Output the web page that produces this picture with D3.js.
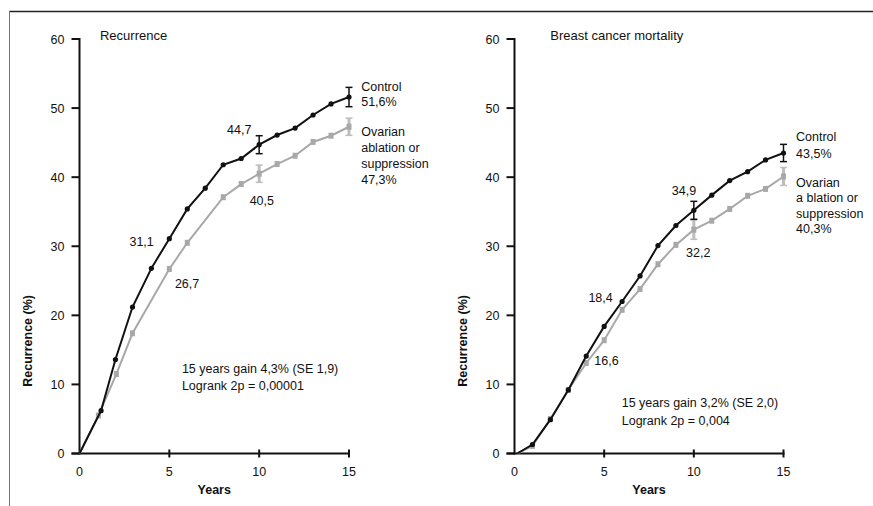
<!DOCTYPE html>
<html>
<head>
<meta charset="utf-8">
<script src="https://cdn.jsdelivr.net/npm/d3@7"></script>
<style>
  body { margin: 0; background: #fff; }
  svg text { font-family: "Liberation Sans", Arial, sans-serif; fill: #111; }
</style>
</head>
<body>
<svg id="chart" width="873" height="506"></svg>
<script>
// ---- data ----
var recControlYears = [0, 1.2, 2, 2.95, 4, 5, 6, 7, 8, 9, 10, 11, 12, 13, 14, 15];
var recControl      = [0, 6.2, 13.6, 21.2, 26.8, 31.1, 35.4, 38.4, 41.8, 42.7, 44.7, 46.1, 47.1, 49.0, 50.6, 51.6];
var recOvarianYears = [0, 1.05, 2.05, 2.95, 5, 6, 8, 9, 10, 11, 12, 13, 14, 15];
var recOvarian      = [0, 5.5, 11.5, 17.4, 26.7, 30.5, 37.1, 39.0, 40.5, 41.9, 43.1, 45.1, 46.0, 47.3];

var mortYears       = [0.15, 1, 2, 3, 4, 5, 6, 7, 8, 9, 10, 11, 12, 13, 14, 15];
var mortControl     = [0, 1.3, 4.9, 9.2, 14.1, 18.4, 22.0, 25.7, 30.1, 33.0, 35.2, 37.4, 39.5, 40.8, 42.5, 43.5];
var mortOvarian     = [0, 1.1, 5.0, 9.2, 13.1, 16.4, 20.8, 23.8, 27.4, 30.2, 32.4, 33.7, 35.4, 37.3, 38.3, 40.1];

var errYears        = [10, 15];
var recControlSE    = [1.3, 1.4];
var recOvarianSE    = [1.25, 1.25];
var mortControlSE   = [1.3, 1.25];
var mortOvarianSE   = [1.4, 1.3];

var xTicks = [0, 5, 10, 15];
var yTicks = [0, 10, 20, 30, 40, 50, 60];

var svg = d3.select("#chart");
var BLACK = "#111", GREY = "#a8a8a8", GREY_ERR = "#bdbdbd";

// frame
svg.append("line").attr("x1", 9).attr("x2", 873).attr("y1", 11.5).attr("y2", 11.5)
    .attr("stroke", "#222").attr("stroke-width", 1.5);
svg.append("line").attr("x1", 9.5).attr("x2", 9.5).attr("y1", 11).attr("y2", 506)
    .attr("stroke", "#777").attr("stroke-width", 1);

var drawPanel = function(p) {
    var x = d3.scaleLinear().domain([0, 15]).range([p.left, p.right]);
    var y = d3.scaleLinear().domain([0, 60]).range([453.5, 39]);
    var g = svg.append("g");

    // y axis
    g.append("line").attr("x1", x(0)).attr("x2", x(0)).attr("y1", y(60) - 1).attr("y2", y(0) + 1)
        .attr("stroke", BLACK).attr("stroke-width", 2);
    g.selectAll(".ytick").data(yTicks).enter().append("line")
        .attr("x1", x(0) - 8).attr("x2", x(0))
        .attr("y1", d => y(d)).attr("y2", d => y(d))
        .attr("stroke", BLACK).attr("stroke-width", 2);
    g.selectAll(".ylab").data(yTicks).enter().append("text")
        .attr("x", x(0) - 15).attr("y", d => y(d) + 4.5)
        .attr("text-anchor", "end").attr("font-size", 12.5)
        .text(d => d);

    // x axis
    g.append("line").attr("x1", x(0) - 8).attr("x2", x(15) + 1).attr("y1", y(0)).attr("y2", y(0))
        .attr("stroke", BLACK).attr("stroke-width", 2);
    g.selectAll(".xtick").data(xTicks.slice(1)).enter().append("line")
        .attr("x1", d => x(d)).attr("x2", d => x(d))
        .attr("y1", y(0) - 4).attr("y2", y(0) + 4)
        .attr("stroke", BLACK).attr("stroke-width", 2);
    g.selectAll(".xlab").data(xTicks).enter().append("text")
        .attr("x", d => x(d)).attr("y", y(0) + 22.7)
        .attr("text-anchor", "middle").attr("font-size", 12.5)
        .text(d => d);

    g.append("text").attr("x", (x(0) + x(15)) / 2).attr("y", 493.8)
        .attr("text-anchor", "middle").attr("font-size", 12.5).attr("font-weight", "bold")
        .text("Years");
    g.append("text")
        .attr("transform", "translate(" + (x(0) - 52.5 + 4.5) + "," + y(16.3) + ") rotate(-90)")
        .attr("text-anchor", "middle").attr("font-size", 12.5).attr("font-weight", "bold")
        .text("Recurrence (%)");

    var line = d3.line().x(d => x(d[0])).y(d => y(d[1]));
    var ctl = d3.zip(p.ctlYears, p.ctl);
    var ova = d3.zip(p.ovaYears, p.ova);

    // ovarian (grey) series
    g.append("path").datum(ova).attr("d", line)
        .attr("fill", "none").attr("stroke", GREY).attr("stroke-width", 2);
    var ovaErr = d3.zip(errYears, errYears.map(yr => p.ova[p.ovaYears.indexOf(yr)]), p.ovaSE);
    ovaErr.forEach(function(e) {
        g.append("line").attr("x1", x(e[0])).attr("x2", x(e[0]))
            .attr("y1", y(e[1] + e[2])).attr("y2", y(e[1] - e[2]))
            .attr("stroke", GREY_ERR).attr("stroke-width", 3);
        [e[1] + e[2], e[1] - e[2]].forEach(function(v) {
            g.append("line").attr("x1", x(e[0]) - 3.5).attr("x2", x(e[0]) + 3.5)
                .attr("y1", y(v)).attr("y2", y(v))
                .attr("stroke", GREY_ERR).attr("stroke-width", 1.5);
        });
    });
    g.selectAll(".ovam").data(ova.slice(1)).enter().append("rect")
        .attr("x", d => x(d[0]) - 2.5).attr("y", d => y(d[1]) - 3)
        .attr("width", 5).attr("height", 6).attr("fill", GREY);

    // control (black) series
    g.append("path").datum(ctl).attr("d", line)
        .attr("fill", "none").attr("stroke", BLACK).attr("stroke-width", 2);
    var ctlErr = d3.zip(errYears, errYears.map(yr => p.ctl[p.ctlYears.indexOf(yr)]), p.ctlSE);
    ctlErr.forEach(function(e) {
        g.append("line").attr("x1", x(e[0])).attr("x2", x(e[0]))
            .attr("y1", y(e[1] + e[2])).attr("y2", y(e[1] - e[2]))
            .attr("stroke", BLACK).attr("stroke-width", 1.5);
        [e[1] + e[2], e[1] - e[2]].forEach(function(v) {
            g.append("line").attr("x1", x(e[0]) - 3.5).attr("x2", x(e[0]) + 3.5)
                .attr("y1", y(v)).attr("y2", y(v))
                .attr("stroke", BLACK).attr("stroke-width", 1.5);
        });
    });
    g.selectAll(".ctlm").data(ctl.slice(1)).enter().append("circle")
        .attr("cx", d => x(d[0])).attr("cy", d => y(d[1])).attr("r", 2.6).attr("fill", BLACK);

    // annotations
    p.notes.forEach(function(n) {
        var t = g.append("text").attr("x", x(n.yr)).attr("y", y(n.val))
            .attr("font-size", n.size || 12.5);
        n.lines.forEach(function(s, i) {
            t.append("tspan").attr("x", x(n.yr)).attr("dy", i === 0 ? 0 : n.lh).text(s);
        });
    });
};

drawPanel({
    left: 79.5, right: 349,
    ctlYears: recControlYears, ctl: recControl, ctlSE: recControlSE,
    ovaYears: recOvarianYears, ova: recOvarian, ovaSE: recOvarianSE,
    notes: [
        { yr: 1.14, val: 59.9, lines: ["Recurrence"], size: 13 },
        { yr: 2.78, val: 30.0, lines: ["31,1"] },
        { yr: 5.31, val: 24.0, lines: ["26,7"] },
        { yr: 8.21, val: 46.2, lines: ["44,7"] },
        { yr: 9.47, val: 36.0, lines: ["40,5"] },
        { yr: 15.68, val: 52.5, lines: ["Control", "51,6%"], lh: 15 },
        { yr: 15.68, val: 46.0, lines: ["Ovarian", "ablation or", "suppression", "47,3%"], lh: 16 },
        { yr: 5.7, val: 11.6, lines: ["15 years gain 4,3% (SE 1,9)", "Logrank 2p = 0,00001"], lh: 17 }
    ]
});

drawPanel({
    left: 514.5, right: 783.5,
    ctlYears: mortYears, ctl: mortControl, ctlSE: mortControlSE,
    ovaYears: mortYears, ova: mortOvarian, ovaSE: mortOvarianSE,
    notes: [
        { yr: 2.0, val: 59.9, lines: ["Breast cancer mortality"], size: 13 },
        { yr: 8.77, val: 37.4, lines: ["34,9"] },
        { yr: 9.57, val: 28.4, lines: ["32,2"] },
        { yr: 4.12, val: 21.9, lines: ["18,4"] },
        { yr: 4.45, val: 12.8, lines: ["16,6"] },
        { yr: 15.7, val: 45.2, lines: ["Control", "43,5%"], lh: 17 },
        { yr: 15.7, val: 38.6, lines: ["Ovarian", "a blation or", "suppression", "40,3%"], lh: 15.5 },
        { yr: 5.98, val: 6.8, lines: ["15 years gain 3,2% (SE 2,0)", "Logrank 2p = 0,004"], lh: 18.5 }
    ]
});
</script>
</body>
</html>
